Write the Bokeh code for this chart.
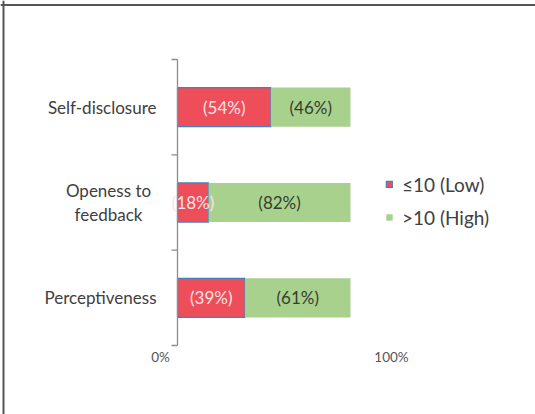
from bokeh.plotting import figure
from bokeh.models import Range1d, Legend, LegendItem, Span
from bokeh.core.properties import value
from bokeh.embed import file_html
from bokeh.resources import INLINE

# --- data -------------------------------------------------------------
categories = ["Self-disclosure", "Openess to\nfeedback", "Perceptiveness"]
low_pct = [54, 18, 39]      # share scoring <=10
high_pct = [46, 82, 61]     # share scoring >10
series_names = ["\u226410 (Low)", ">10 (High)"]
x_ticks = [0, 100]
x_tick_labels = ["0%", "100%"]

# --- geometry (pixels) --------------------------------------------------
W, H = 535, 414
X0_PX, X100_PX = 177, 350          # where 0% and 100% fall
Y_BOTTOM_PX, Y_TOP_PX = 345, 59    # bottom / top of the category axis

n = len(categories)
ux = (X100_PX - X0_PX) / 100.0
uy = (Y_BOTTOM_PX - Y_TOP_PX) / n

FONT = value("Lato")
RED = "#EE4E5A"
GREEN = "#A9D18E"
EDGE = "#4A7EBB"
TEXT = "#404040"

p = figure(width=W, height=H, output_backend="svg", toolbar_location=None,
           x_axis_type=None, y_axis_type=None,
           x_range=Range1d(-X0_PX / ux, (W - X0_PX) / ux),
           y_range=Range1d(-(H - Y_BOTTOM_PX) / uy, n + Y_TOP_PX / uy),
           min_border=0, outline_line_color=None)
p.grid.visible = False
p.background_fill_color = "white"

# category rows, top to bottom
ys = [n - i - 0.5 for i in range(n)]
low_right = low_pct
high_left = low_pct
high_right = [lo + hi for lo, hi in zip(low_pct, high_pct)]

r_low = p.hbar(y=ys, left=0, right=low_right, height=0.41,
               fill_color=RED, line_color=EDGE, line_width=1.2)
r_high = p.hbar(y=ys, left=high_left, right=high_right, height=0.41,
                fill_color=GREEN, line_color=None)

# value labels inside the segments
p.text(x=[v / 2 for v in low_pct], y=ys, text=[f"({v}%)" for v in low_pct],
       text_font=FONT, text_font_size="17px", text_color="#FCE3E6",
       text_align="center", text_baseline="middle")
p.text(x=[(l + r) / 2 for l, r in zip(high_left, high_right)], y=ys,
       text=[f"({v}%)" for v in high_pct],
       text_font=FONT, text_font_size="17px", text_color="#34402E",
       text_align="center", text_baseline="middle")

# category axis: line, boundary ticks, labels
tick_len = 6 / ux
p.segment(x0=[0], y0=[0], x1=[0], y1=[n], line_color="#8C8C8C", line_width=1.3)
p.segment(x0=[-tick_len] * (n + 1), y0=list(range(n + 1)),
          x1=[0] * (n + 1), y1=list(range(n + 1)),
          line_color="#8C8C8C", line_width=1.3)

single = [(c, y) for c, y in zip(categories, ys) if "\n" not in c]
multi = [(c, y) for c, y in zip(categories, ys) if "\n" in c]
p.text(x=[0] * len(single), y=[y for _, y in single], text=[c for c, _ in single],
       x_offset=-21, text_font=FONT, text_font_size="17px", text_color=TEXT,
       text_align="right", text_baseline="middle")
p.text(x=[0] * len(multi), y=[y for _, y in multi], text=[c for c, _ in multi],
       x_offset=-69, text_font=FONT, text_font_size="17px", text_color=TEXT,
       text_align="center", text_baseline="middle", text_line_height=1.1)

# percentage axis labels
p.text(x=[x_ticks[0]], y=[0], text=[x_tick_labels[0]], x_offset=-17, y_offset=11,
       text_font=FONT, text_font_size="13.5px", text_color="#555555",
       text_align="center", text_baseline="middle")
p.text(x=[x_ticks[1]], y=[0], text=[x_tick_labels[1]], x_offset=41, y_offset=11,
       text_font=FONT, text_font_size="13.5px", text_color="#555555",
       text_align="center", text_baseline="middle")

# frame lines along the top and left edges
p.add_layout(Span(location=p.x_range.start + 3 / ux, dimension="height",
                  line_color="#555555", line_width=2))
p.add_layout(Span(location=p.y_range.end - 4.5 / uy, dimension="width",
                  line_color="#555555", line_width=2))

legend = Legend(items=[LegendItem(label=series_names[0], renderers=[r_low]),
                       LegendItem(label=series_names[1], renderers=[r_high])],
                location=(385, 185), glyph_width=8, glyph_height=8,
                label_standoff=9, spacing=9, label_height=24, padding=0, margin=0,
                border_line_color=None, background_fill_alpha=0,
                label_text_font="Lato", label_text_font_size="19px",
                label_text_color=TEXT)
p.add_layout(legend)

open("out.html", "w").write(file_html(p, INLINE))
